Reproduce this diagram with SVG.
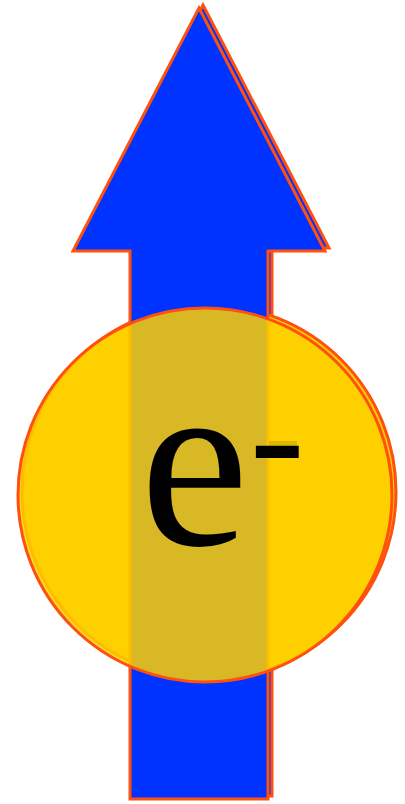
<svg xmlns="http://www.w3.org/2000/svg" width="405" height="804" viewBox="0 0 405 804">
<style>
.arrow{fill:#0033FF;stroke:#FF5010;stroke-width:3;stroke-linejoin:miter}
.circ{fill:#FFD000;stroke:#FF5010;stroke-width:3}
.t{font-family:"Liberation Serif","Times New Roman",serif;fill:#000}
</style>
<defs>
<polygon id="arr" points="199,8 325,251 268,251 268,799 130,799 130,251 73,251"/>
</defs>
<rect width="405" height="804" fill="#fff"/>
<g id="shadow">
<use href="#arr" class="arrow" transform="translate(4,-3)"/>
<circle class="circ" cx="209" cy="492" r="187"/>
</g>
<g id="arrow">
<use href="#arr" class="arrow"/>
</g>
<g id="electron">
<circle class="circ" cx="205" cy="495" r="187" style="fill-opacity:0.85"/>
<rect x="269" y="441" width="28" height="16" fill="#C8A800" opacity="0.6"/>
<text class="t" x="140" y="545" font-size="245">e<tspan font-size="165" dx="1" dy="-54">-</tspan></text>
</g>
<g id="connectors"/>
</svg>
